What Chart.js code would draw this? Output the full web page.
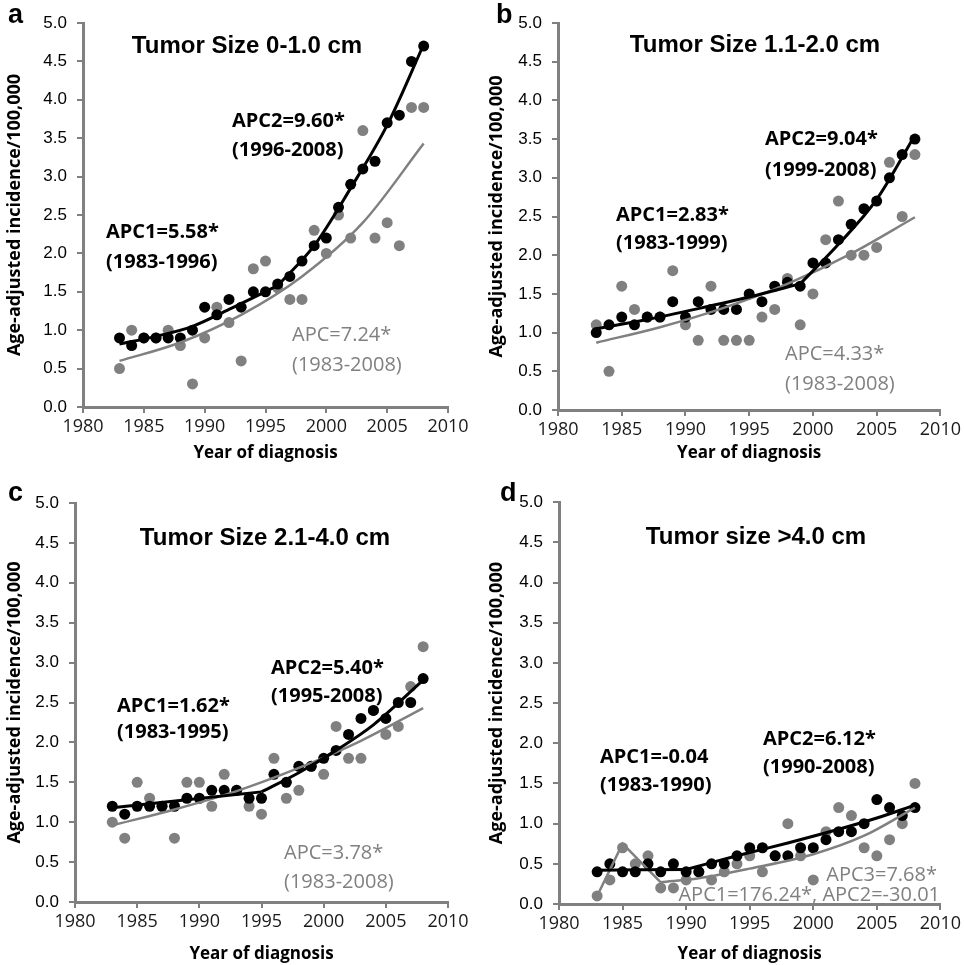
<!DOCTYPE html>
<html>
<head>
<meta charset="utf-8">
<script src="https://cdn.jsdelivr.net/npm/chart.js@4.4.0/dist/chart.umd.min.js"></script>
<style>
  body { margin: 0; background: #fff; }
  #wrap { position: relative; width: 964px; height: 965px; }
  canvas { position: absolute; }
</style>
</head>
<body>
<div id="wrap">
  <canvas id="chartA" width="482" height="482" style="left:0;top:0"></canvas>
  <canvas id="chartB" width="482" height="482" style="left:482px;top:0"></canvas>
  <canvas id="chartC" width="482" height="483" style="left:0;top:482px"></canvas>
  <canvas id="chartD" width="482" height="483" style="left:482px;top:482px"></canvas>
</div>
<script>
const years = [1983, 1984, 1985, 1986, 1987, 1988, 1989, 1990, 1991, 1992, 1993, 1994, 1995,
  1996, 1997, 1998, 1999, 2000, 2001, 2002, 2003, 2004, 2005, 2006, 2007, 2008];
const xTicks = [1980, 1985, 1990, 1995, 2000, 2005, 2010];
const yTicks = [0, 0.5, 1, 1.5, 2, 2.5, 3, 3.5, 4, 4.5, 5];

// a: 0-1.0 cm
const aBlack = [0.9, 0.8, 0.9, 0.9, 0.9, 0.9, 1.0, 1.3, 1.2, 1.4, 1.3, 1.5, 1.5, 1.6, 1.7, 1.9, 2.1, 2.2, 2.6, 2.9, 3.1, 3.2, 3.7, 3.8, 4.5, 4.7];
const aGray = [0.5, 1.0, 0.9, 0.9, 1.0, 0.8, 0.3, 0.9, 1.3, 1.1, 0.6, 1.8, 1.9, 1.55, 1.4, 1.4, 2.3, 2.0, 2.5, 2.2, 3.6, 2.2, 2.4, 2.1, 3.9, 3.9];
const aFit1Years = [1983, 1986, 1989, 1992, 1996];
const aFit1 = [0.82, 0.92, 1.05, 1.27, 1.58];
const aFit2Years = [1996, 1999, 2002, 2005, 2008];
const aFit2 = [1.58, 2.10, 2.85, 3.67, 4.72];
const aGrayFitYears = [1983, 1988, 1993, 1998, 2003, 2008];
const aGrayFit = [0.60, 0.84, 1.20, 1.70, 2.40, 3.43];

// b: 1.1-2.0 cm
const bBlack = [1.0, 1.1, 1.2, 1.1, 1.2, 1.2, 1.4, 1.2, 1.4, 1.3, 1.3, 1.3, 1.5, 1.4, 1.6, 1.65, 1.6, 1.9, 1.9, 2.2, 2.4, 2.6, 2.7, 3.0, 3.3, 3.5];
const bGray = [1.1, 0.5, 1.6, 1.3, 1.2, 1.2, 1.8, 1.1, 0.9, 1.6, 0.9, 0.9, 0.9, 1.2, 1.3, 1.7, 1.1, 1.5, 2.2, 2.7, 2.0, 2.0, 2.1, 3.2, 2.5, 3.3];
const bFit1Years = [1983, 1987, 1991, 1995, 1999];
const bFit1 = [1.05, 1.17, 1.31, 1.46, 1.63];
const bFit2Years = [1999, 2002, 2005, 2008];
const bFit2 = [1.63, 2.14, 2.72, 3.55];
const bGrayFitYears = [1983, 1988, 1993, 1998, 2003, 2008];
const bGrayFit = [0.87, 1.07, 1.32, 1.63, 2.02, 2.49];

// c: 2.1-4.0 cm
const cBlack = [1.2, 1.1, 1.2, 1.2, 1.2, 1.2, 1.3, 1.3, 1.4, 1.4, 1.4, 1.3, 1.3, 1.6, 1.5, 1.7, 1.7, 1.8, 1.9, 2.1, 2.3, 2.4, 2.3, 2.5, 2.5, 2.8];
const cGray = [1.0, 0.8, 1.5, 1.3, 1.2, 0.8, 1.5, 1.5, 1.2, 1.6, 1.4, 1.2, 1.1, 1.8, 1.3, 1.4, 1.7, 1.6, 2.2, 1.8, 1.8, 2.4, 2.1, 2.2, 2.7, 3.2];
const cFit1Years = [1983, 1989, 1995];
const cFit1 = [1.18, 1.28, 1.38];
const cFit2Years = [1995, 1998, 2001, 2004, 2008];
const cFit2 = [1.38, 1.62, 1.90, 2.22, 2.78];
const cGrayFitYears = [1983, 1988, 1993, 1998, 2003, 2008];
const cGrayFit = [0.96, 1.16, 1.39, 1.68, 2.02, 2.43];

// d: >4.0 cm
const dBlack = [0.4, 0.5, 0.4, 0.4, 0.5, 0.4, 0.5, 0.4, 0.4, 0.5, 0.5, 0.6, 0.7, 0.7, 0.6, 0.6, 0.7, 0.7, 0.8, 0.9, 0.9, 1.0, 1.3, 1.2, 1.1, 1.2];
const dGray = [0.1, 0.3, 0.7, 0.5, 0.6, 0.2, 0.2, 0.3, 0.4, 0.3, 0.4, 0.5, 0.6, 0.4, 0.6, 1.0, 0.6, 0.3, 0.9, 1.2, 1.1, 0.7, 0.6, 0.8, 1.0, 1.5];
const dFit1Years = [1983, 1990];
const dFit1 = [0.42, 0.43];
const dFit2Years = [1990, 1994, 1998, 2002, 2005, 2008];
const dFit2 = [0.43, 0.60, 0.76, 0.93, 1.07, 1.23];
const dGrayFit1Years = [1983, 1985, 1988];
const dGrayFit1 = [0.10, 0.75, 0.27];
const dGrayFit2Years = [1988, 1991, 1995, 2000, 2004, 2008];
const dGrayFit2 = [0.27, 0.32, 0.44, 0.62, 0.85, 1.20];

const BLACK = '#000000';
const GRAY = '#808080';

function toPoints(xs, ys) {
    return xs.map((x, i) => ({ x: x, y: ys[i] }));
}

function fitLine(xs, ys, color, width, straight) {
    return {
        data: toPoints(xs, ys),
        showLine: true,
        borderColor: color,
        borderWidth: width,
        pointRadius: 0,
        cubicInterpolationMode: straight ? 'default' : 'monotone',
        tension: 0
    };
}

function dots(values, color) {
    return {
        data: toPoints(years, values),
        showLine: false,
        pointRadius: 5.5,
        pointBackgroundColor: color,
        pointBorderWidth: 0
    };
}

function textPlugin(cfg) {
    return {
        id: 'panelText',
        afterDraw(chart) {
            const ctx = chart.ctx;
            ctx.save();
            ctx.textBaseline = 'middle';
            ctx.fillStyle = BLACK;
            ctx.textAlign = 'left';
            ctx.font = 'bold 27px "Liberation Sans"';
            ctx.fillText(cfg.letter, cfg.letterAt[0], cfg.letterAt[1]);
            ctx.textAlign = 'center';
            ctx.font = 'bold 24px "Liberation Sans"';
            ctx.fillText(cfg.title, cfg.titleAt[0], cfg.titleAt[1]);
            cfg.notes.forEach(n => {
                ctx.fillStyle = n.gray ? GRAY : BLACK;
                ctx.font = (n.gray ? '' : 'bold ') + '20px "Open Sans"';
                ctx.textAlign = n.align || 'left';
                ctx.fillText(n.text, n.x, n.y);
            });
            ctx.restore();
        }
    };
}

function axisStyle() {
    return {
        grid: { drawOnChartArea: false, color: GRAY, lineWidth: 2, tickLength: 6 },
        border: { color: GRAY, width: 3 }
    };
}

function buildChart(id, cfg) {
    const canvas = document.getElementById(id);
    const datasets = [];
    cfg.blackFits.forEach(f => datasets.push(fitLine(f[0], f[1], BLACK, 3, f[2])));
    cfg.grayFits.forEach(f => datasets.push(fitLine(f[0], f[1], GRAY, 2.5, f[2])));
    datasets.push(dots(cfg.black, BLACK));
    datasets.push(dots(cfg.gray, GRAY));

    new Chart(canvas, {
        type: 'scatter',
        data: { datasets: datasets },
        options: {
            responsive: false,
            animation: false,
            events: [],
            layout: {
                padding: { left: 0, top: cfg.area.top, right: canvas.width - cfg.area.right, bottom: 0 }
            },
            plugins: { legend: { display: false }, tooltip: { enabled: false } },
            scales: {
                x: Object.assign(axisStyle(), {
                    type: 'linear',
                    min: xTicks[0],
                    max: xTicks[xTicks.length - 1],
                    afterBuildTicks: s => { s.ticks = xTicks.map(v => ({ value: v })); },
                    ticks: {
                        color: '#1a1a1a',
                        font: { family: 'Open Sans', size: 18 },
                        padding: 3,
                        maxRotation: 0,
                        callback: v => String(v)
                    },
                    title: {
                        display: true,
                        text: 'Year of diagnosis',
                        color: BLACK,
                        font: { family: 'Open Sans', size: 17, weight: 'bold' },
                        padding: { top: 0, bottom: cfg.xTitlePad }
                    },
                    afterFit: s => { s.height = canvas.height - cfg.area.bottom; }
                }),
                y: Object.assign(axisStyle(), {
                    type: 'linear',
                    min: yTicks[0],
                    max: yTicks[yTicks.length - 1],
                    afterBuildTicks: s => { s.ticks = yTicks.map(v => ({ value: v })); },
                    ticks: {
                        color: BLACK,
                        font: { family: 'Liberation Sans', size: 17 },
                        padding: 10,
                        callback: v => v.toFixed(1)
                    },
                    title: {
                        display: true,
                        text: 'Age-adjusted incidence/100,000',
                        color: BLACK,
                        font: { family: 'Open Sans', size: 18, weight: 'bold' },
                        padding: { top: 4, bottom: 0 }
                    },
                    afterFit: s => { s.width = cfg.area.left; }
                })
            }
        },
        plugins: [textPlugin(cfg)]
    });
}

buildChart('chartA', {
    area: { left: 83, top: 23, right: 448, bottom: 407 },
    xTitlePad: 19,
    black: aBlack, gray: aGray,
    blackFits: [[aFit1Years, aFit1], [aFit2Years, aFit2]],
    grayFits: [[aGrayFitYears, aGrayFit]],
    letter: 'a', letterAt: [8, 16],
    title: 'Tumor Size 0-1.0 cm', titleAt: [247, 46],
    notes: [
        { text: 'APC2=9.60*', x: 232, y: 121 },
        { text: '(1996-2008)', x: 232, y: 150 },
        { text: 'APC1=5.58*', x: 106, y: 232 },
        { text: '(1983-1996)', x: 106, y: 262 },
        { text: 'APC=7.24*', x: 292, y: 335, gray: true },
        { text: '(1983-2008)', x: 292, y: 365, gray: true }
    ]
});

buildChart('chartB', {
    area: { left: 76, top: 23, right: 460, bottom: 410 },
    xTitlePad: 19,
    black: bBlack, gray: bGray,
    blackFits: [[bFit1Years, bFit1], [bFit2Years, bFit2]],
    grayFits: [[bGrayFitYears, bGrayFit]],
    letter: 'b', letterAt: [14, 16],
    title: 'Tumor Size 1.1-2.0 cm', titleAt: [273, 45],
    notes: [
        { text: 'APC2=9.04*', x: 283, y: 139 },
        { text: '(1999-2008)', x: 283, y: 170 },
        { text: 'APC1=2.83*', x: 134, y: 215 },
        { text: '(1983-1999)', x: 134, y: 243 },
        { text: 'APC=4.33*', x: 303, y: 354, gray: true },
        { text: '(1983-2008)', x: 303, y: 384, gray: true }
    ]
});

buildChart('chartC', {
    area: { left: 75, top: 21, right: 448, bottom: 420 },
    xTitlePad: 1,
    black: cBlack, gray: cGray,
    blackFits: [[cFit1Years, cFit1], [cFit2Years, cFit2]],
    grayFits: [[cGrayFitYears, cGrayFit]],
    letter: 'c', letterAt: [8, 12],
    title: 'Tumor Size 2.1-4.0 cm', titleAt: [265, 56],
    notes: [
        { text: 'APC2=5.40*', x: 271, y: 186 },
        { text: '(1995-2008)', x: 271, y: 214 },
        { text: 'APC1=1.62*', x: 117, y: 224 },
        { text: '(1983-1995)', x: 117, y: 250 },
        { text: 'APC=3.78*', x: 284, y: 371, gray: true },
        { text: '(1983-2008)', x: 284, y: 400, gray: true }
    ]
});

buildChart('chartD', {
    area: { left: 77, top: 11, right: 460, bottom: 422 },
    xTitlePad: 1,
    black: dBlack, gray: dGray,
    blackFits: [[dFit1Years, dFit1], [dFit2Years, dFit2]],
    grayFits: [[dGrayFit1Years, dGrayFit1, true], [dGrayFit2Years, dGrayFit2]],
    letter: 'd', letterAt: [18, 12],
    title: 'Tumor size >4.0 cm', titleAt: [274, 55],
    notes: [
        { text: 'APC2=6.12*', x: 281, y: 257 },
        { text: '(1990-2008)', x: 281, y: 285 },
        { text: 'APC1=-0.04', x: 118, y: 275 },
        { text: '(1983-1990)', x: 118, y: 303 },
        { text: 'APC3=7.68*', x: 455, y: 393, gray: true, align: 'right' },
        { text: 'APC1=176.24*, APC2=-30.01', x: 458, y: 413, gray: true, align: 'right' }
    ]
});
</script>
</body>
</html>
